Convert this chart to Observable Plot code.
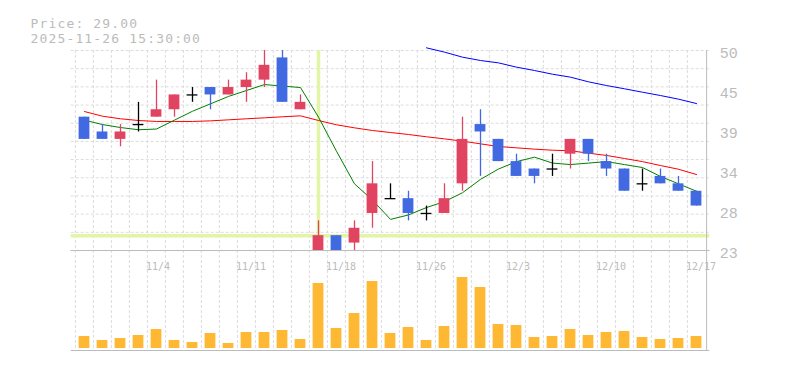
<!DOCTYPE html>
<html><head><meta charset="utf-8">
<script src="https://cdn.jsdelivr.net/npm/d3@7"></script>
<script src="https://cdn.jsdelivr.net/npm/@observablehq/plot@0.6"></script>
<style>
body{margin:0;background:#fff;}
#chart{position:relative;width:785px;height:370px;overflow:hidden;}
#chart svg{position:absolute;left:0;top:0;}
</style></head><body><div id="chart"></div>
<script>
// ---- data ----
const dates = ["10/28","10/29","10/30","10/31","11/4","11/5","11/6","11/7","11/10","11/11","11/12","11/13","11/14","11/17","11/18","11/19","11/20","11/21","11/25","11/26","11/27","11/28","12/1","12/2","12/3","12/4","12/5","12/8","12/9","12/10","12/11","12/12","12/15","12/16","12/17"];
const open  = [41,39,38,40,41,42,44,45,44,45,46,49,42,23,25,24,28,30,30,28,28,32,40,38,35,34,34,36,38,35,34,32,33,32,31];
const high  = [41,40,40,43,46,44,45,45,46,47,50,50,44,27,25,27,35,32,31,29,32,41,42,38,36,34,36,38,38,36,34,34,34,33,31];
const low   = [38,38,37,39,41,41,43,42,44,43,45,43,42,23,23,23,26,30,27,27,28,31,33,35,33,32,33,34,35,33,31,31,32,31,29];
const close = [38,38,39,40,42,44,44,44,45,46,48,43,43,25,23,26,32,30,28,28,30,38,39,35,33,33,34,38,36,34,31,32,32,31,29];
const volume = [140000,100000,120000,150000,210000,100000,80000,170000,70000,180000,180000,200000,110000,670000,220000,370000,690000,170000,230000,100000,240000,730000,630000,260000,250000,130000,140000,210000,150000,180000,190000,130000,110000,120000,140000];
const ma5  = [40.6,40.0,39.6,39.3,39.4,40.6,41.8,42.8,43.8,44.6,45.4,45.2,45.0,41.0,36.4,32.0,29.8,27.2,27.8,28.8,29.6,30.8,32.6,34.0,35.0,35.6,34.8,34.6,34.8,35.0,34.6,34.2,33.0,32.0,31.0];
const ma25 = [41.76,41.13,40.78,40.55,40.42,40.42,40.42,40.5,40.64,40.78,40.91,41.05,41.18,40.55,39.97,39.56,39.2,38.93,38.66,38.35,38.07,37.76,37.4,37.04,36.86,36.68,36.54,36.46,36.14,35.83,35.42,35.0,34.47,33.97,33.26];
const ma75 = [null,null,null,null,null,null,null,null,null,null,null,null,null,null,null,null,null,null,null,50.36,49.78,49.1,48.65,48.33,47.75,47.3,46.8,46.4,45.77,45.27,44.83,44.37,43.92,43.43,42.84];
const yTickValues = [50, 44.6, 39.2, 33.8, 28.4, 23];
const yTickLabels = ["50","45","39","34","28","23"];
const xTickLabels = ["11/4","11/11","11/18","11/26","12/3","12/10","12/17"];
const priceText = "Price: 29.00";
const timeText = "2025-11-26 15:30:00";
const cursorDate = "11/17";
const cursorPrice = 25;

// ---- layout ----
const W = 785, H = 370, L = 70.7, R = 709.3;
const bw = (R - L) / dates.length;
const UP = "#e04460", DOWN = "#4169e1", GRID = "#dcdcdc", BORDER = "#bbbbbb", TEXT = "#bbbbbb";
const rows = dates.map((d, i) => ({date: d, open: open[i], high: high[i], low: low[i], close: close[i],
  volume: volume[i], ma5: ma5[i], ma25: ma25[i], ma75: ma75[i]}));
const colorOf = r => r.close > r.open ? UP : r.close < r.open ? DOWN : "#000000";
const bodies = rows.filter(r => r.close !== r.open);
const dojis = rows.filter(r => r.close === r.open);
const gridY = d3.range(1, 12).map(k => 23 + k * 27 / 11);
const common = {width: W, height: H, marginLeft: L, marginRight: W - R};
const xScale = {type: "band", domain: dates, padding: 0, axis: null};
const grid = {stroke: GRID, strokeDasharray: "3,2", strokeWidth: 1};

const price = Plot.plot({
  ...common, marginTop: 50, marginBottom: 120,
  x: xScale,
  y: {domain: [23, 50], axis: null},
  style: {background: "transparent", fontFamily: "Liberation Mono", overflow: "visible"},
  marks: [
    Plot.ruleY(gridY, grid),
    Plot.ruleX(dates, {x: d => d, dx: -bw / 2, ...grid}),
    Plot.ruleX([cursorDate], {x: d => d, stroke: "#e2f5a6", strokeWidth: 3.5}),
    Plot.ruleY([cursorPrice], {stroke: "#e2f5a6", strokeWidth: 3.5}),
    Plot.line(rows, {x: "date", y: "ma25", stroke: "#ff0000", strokeWidth: 1}),
    Plot.line(rows, {x: "date", y: "ma75", stroke: "#0000ff", strokeWidth: 1}),
    Plot.line(rows, {x: "date", y: "ma5", stroke: "#008000", strokeWidth: 1}),
    Plot.ruleX(rows, {x: "date", y1: "low", y2: "high", stroke: colorOf, strokeWidth: 1.3}),
    Plot.barY(bodies, {x: "date", y1: "open", y2: "close", fill: colorOf, insetLeft: 3.6, insetRight: 3.6}),
    Plot.tickY(dojis, {x: "date", y: "open", stroke: "#000000", strokeWidth: 1.3, insetLeft: 3.6, insetRight: 3.6}),
    Plot.ruleY([23], {stroke: BORDER}),
    Plot.ruleX([dates[dates.length - 1]], {x: d => d, dx: bw / 2 + 1, stroke: BORDER}),
    Plot.text(yTickValues, {y: d => d, text: (d, i) => yTickLabels[i], frameAnchor: "right", textAnchor: "start",
      dx: 10, dy: 2.5, fill: TEXT, fontSize: 15}),
    Plot.text([priceText], {frameAnchor: "top-left", textAnchor: "start", dx: 30 - L, dy: 18 - 50,
      fill: TEXT, fontSize: 13, fontFamily: "DejaVu Sans Mono"}),
    Plot.text([timeText], {frameAnchor: "top-left", textAnchor: "start", dx: 30 - L, dy: 33 - 50,
      fill: TEXT, fontSize: 13, fontFamily: "DejaVu Sans Mono"})
  ]
});

// widen the header glyph spacing to match the reference's wide monospace text
d3.select(price).selectAll("text").filter(function() {
  const t = this.textContent; return t === priceText || t === timeText;
}).attr("letter-spacing", "1.15px");

const vol = Plot.plot({
  ...common, marginTop: 250, marginBottom: 20,
  x: xScale,
  y: {domain: [0, 1e6], axis: null},
  style: {background: "transparent", fontFamily: "DejaVu Sans Mono", overflow: "visible"},
  marks: [
    Plot.ruleX(dates, {x: d => d, dx: -bw / 2, ...grid}),
    Plot.barY(rows, {x: "date", y: "volume", fill: "#ffb833", insetLeft: 3.6, insetRight: 3.6, insetBottom: 2}),
    Plot.ruleY([0, 1e6], {stroke: BORDER}),
    Plot.ruleX([dates[dates.length - 1]], {x: d => d, dx: bw / 2 + 1, stroke: BORDER}),
    Plot.text(xTickLabels, {x: d => d, frameAnchor: "top", dy: 12, dx: -10.5, textAnchor: "start", fill: TEXT, fontSize: 10})
  ]
});

const el = document.getElementById("chart");
el.appendChild(price);
el.appendChild(vol);
</script></body></html>
